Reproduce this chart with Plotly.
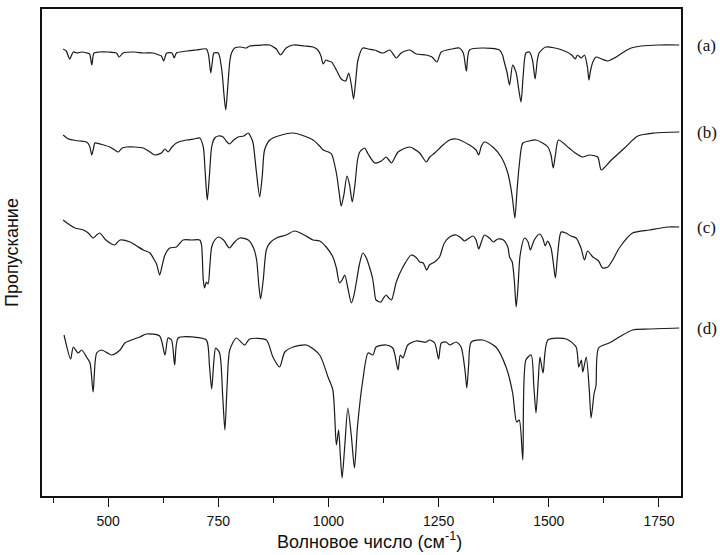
import plotly.graph_objects as go

# Wavenumber (cm^-1) and transmittance (arbitrary units, offset traces)
wn_a = [398, 405, 413, 421, 430, 440, 452, 458, 463, 468, 480, 500, 519, 525, 534, 560, 580, 602, 615, 621,
        626, 633, 645, 650, 655, 680, 700, 723, 728, 733, 737, 740, 750, 758, 763, 767, 771, 776, 780, 787,
        800, 814, 821, 850, 867, 875, 882, 891, 904, 920, 945, 965, 976, 983, 988, 994, 1000, 1007, 1018, 1029,
        1039, 1046, 1052, 1057, 1062, 1067, 1078, 1090, 1105, 1115, 1124, 1139, 1154, 1165, 1184, 1199, 1222, 1235, 1246, 1256,
        1280, 1297, 1306, 1313, 1320, 1350, 1388, 1395, 1399, 1405, 1411, 1418, 1426, 1432, 1437, 1442, 1448, 1456, 1463, 1469,
        1474, 1478, 1493, 1530, 1552, 1560, 1565, 1574, 1581, 1588, 1591, 1595, 1600, 1607, 1620, 1634, 1649, 1670, 1687, 1710,
        1750, 1796]
t_a = [447, 445, 437, 444, 443, 444, 443, 442, 431, 443, 444, 444, 443, 439, 443, 444, 443, 443, 441, 440,
       435, 443, 443, 438, 443, 445, 446, 447, 441, 423, 436, 443, 443, 426, 401, 386, 406, 434, 443, 448,
       449, 448, 450, 451, 451, 449, 447, 441, 448, 451, 450, 449, 446, 440, 432, 436, 435, 434, 426, 417,
       415, 423, 411, 397, 416, 436, 448, 447, 446, 444, 443, 446, 438, 443, 446, 442, 441, 439, 434, 444,
       447, 448, 443, 425, 446, 448, 446, 441, 434, 424, 411, 431, 423, 406, 394, 421, 443, 444, 436, 417,
       436, 443, 449, 446, 441, 437, 441, 438, 441, 428, 416, 426, 434, 439, 437, 435, 438, 444, 448, 450,
       451, 451]

wn_b = [398, 410, 421, 435, 451, 458, 463, 468, 470, 490, 504, 515, 523, 532, 542, 560, 580, 595, 606, 621,
        629, 636, 645, 655, 678, 695, 708, 716, 720, 725, 730, 735, 742, 750, 761, 768, 775, 785, 795, 808,
        818, 824, 829, 836, 844, 850, 855, 867, 886, 920, 945, 965, 980, 988, 1000, 1007, 1018, 1025, 1029, 1035,
        1042, 1048, 1054, 1060, 1066, 1071, 1082, 1090, 1105, 1120, 1131, 1137, 1143, 1158, 1184, 1207, 1222, 1230, 1241, 1260,
        1275, 1290, 1320, 1335, 1341, 1347, 1354, 1373, 1392, 1407, 1414, 1418, 1423, 1428, 1433, 1441, 1455, 1471, 1486, 1498,
        1505, 1510, 1515, 1522, 1546, 1560, 1576, 1592, 1611, 1619, 1642, 1672, 1702, 1740, 1796]
t_b = [361, 357, 356, 355, 354, 350, 341, 350, 353, 351, 349, 346, 344, 348, 349, 349, 348, 344, 341, 343,
       347, 344, 349, 353, 356, 357, 358, 349, 326, 296, 321, 349, 358, 360, 359, 355, 352, 356, 359, 360,
       363, 359, 353, 326, 299, 321, 346, 356, 360, 363, 360, 356, 350, 346, 344, 342, 323, 301, 290, 301,
       320, 311, 294, 311, 336, 344, 348, 342, 333, 335, 339, 336, 333, 344, 349, 343, 334, 339, 343, 351,
       356, 357, 351, 346, 341, 350, 354, 349, 339, 323, 308, 296, 278, 306, 331, 353, 355, 356, 353, 349,
       341, 328, 341, 356, 348, 343, 339, 341, 339, 326, 336, 348, 360, 363, 364]

wn_c = [398, 410, 425, 444, 455, 466, 474, 481, 495, 508, 515, 527, 550, 565, 580, 595, 605, 610, 617, 623,
        629, 640, 655, 670, 690, 708, 712, 716, 719, 723, 727, 731, 735, 742, 750, 762, 775, 787, 799, 818,
        830, 837, 842, 846, 852, 859, 867, 882, 904, 923, 945, 965, 980, 995, 1010, 1018, 1025, 1031, 1037, 1044,
        1052, 1058, 1063, 1070, 1078, 1086, 1093, 1100, 1104, 1108, 1119, 1125, 1131, 1137, 1143, 1154, 1169, 1188, 1200, 1207,
        1215, 1223, 1229, 1241, 1252, 1263, 1275, 1290, 1301, 1309, 1316, 1328, 1335, 1341, 1347, 1354, 1365, 1374, 1384, 1397,
        1407, 1411, 1417, 1422, 1426, 1430, 1435, 1445, 1453, 1458, 1467, 1479, 1486, 1492, 1497, 1505, 1510, 1515, 1520, 1528,
        1539, 1550, 1562, 1573, 1581, 1588, 1600, 1607, 1613, 1622, 1634, 1645, 1660, 1690, 1728, 1770, 1796]
t_c = [276, 272, 268, 266, 263, 258, 261, 263, 256, 252, 251, 256, 254, 250, 246, 243, 236, 232, 221, 231,
       241, 248, 249, 256, 256, 256, 251, 216, 208, 214, 212, 231, 249, 256, 259, 256, 248, 254, 258, 256,
       248, 236, 211, 197, 216, 246, 253, 258, 261, 265, 261, 256, 255, 249, 239, 228, 213, 216, 221, 208,
       193, 201, 213, 231, 243, 238, 229, 218, 206, 196, 194, 198, 201, 198, 196, 214, 229, 241, 238, 234,
       233, 226, 231, 234, 239, 253, 259, 261, 258, 255, 257, 260, 256, 247, 254, 261, 258, 254, 257, 256,
       249, 239, 234, 214, 189, 208, 241, 258, 254, 246, 256, 262, 258, 250, 255, 248, 234, 218, 241, 264,
       263, 260, 258, 248, 236, 245, 239, 237, 235, 228, 229, 236, 248, 263, 266, 269, 269]

wn_d = [400, 415, 421, 432, 440, 451, 459, 466, 474, 485, 508, 527, 538, 572, 587, 617, 629, 636, 644, 651,
        659, 693, 723, 730, 735, 740, 744, 753, 760, 765, 770, 776, 791, 810, 821, 859, 874, 889, 901, 920,
        950, 980, 999, 1010, 1018, 1023, 1027, 1031, 1037, 1044, 1052, 1059, 1066, 1078, 1090, 1101, 1108, 1131, 1146, 1158,
        1163, 1169, 1180, 1199, 1222, 1229, 1241, 1250, 1256, 1267, 1275, 1290, 1301, 1310, 1314, 1318, 1324, 1350, 1380, 1403,
        1418, 1427, 1433, 1441, 1448, 1460, 1466, 1471, 1476, 1480, 1487, 1498, 1540, 1562, 1568, 1574, 1577, 1585, 1592, 1596,
        1603, 1607, 1613, 1637, 1660, 1690, 1728, 1796]
t_d = [161, 137, 149, 143, 146, 139, 133, 104, 143, 146, 141, 146, 153, 159, 162, 160, 141, 158, 156, 131,
       158, 159, 156, 130, 107, 135, 148, 143, 100, 66, 110, 146, 158, 151, 157, 156, 139, 129, 144, 149,
       151, 141, 119, 106, 51, 66, 40, 18, 50, 88, 60, 28, 70, 116, 143, 141, 149, 151, 148, 126,
       141, 138, 151, 155, 154, 156, 153, 137, 153, 154, 151, 154, 149, 125, 108, 130, 154, 156, 149, 129,
       103, 74, 76, 36, 136, 141, 110, 83, 115, 139, 123, 156, 157, 149, 129, 136, 124, 139, 105, 78,
       103, 110, 148, 153, 159, 166, 167, 168]

labels = ["(a)", "(b)", "(c)", "(d)"]
series = [(wn_a, t_a), (wn_b, t_b), (wn_c, t_c), (wn_d, t_d)]

fig = go.Figure()
for (x, y) in series:
    fig.add_trace(go.Scatter(x=x, y=y, mode="lines",
                             line=dict(color="#1a1a1a", width=1.2, shape="spline", smoothing=0.7),
                             showlegend=False, hoverinfo="skip"))

for lab, (x, y) in zip(labels, series):
    fig.add_annotation(text=lab, xref="paper", yref="y", x=1.022, y=y[-1],
                       xanchor="left", yanchor="middle", showarrow=False,
                       font=dict(family="Liberation Serif, Times New Roman, serif", size=17, color="#111"))

# x-axis title as a fixed annotation below the axis
fig.add_annotation(text="Волновое число (см<sup>-1</sup>)", xref="paper", yref="paper",
                   x=0.513, y=-0.092, xanchor="center", yanchor="middle", showarrow=False,
                   font=dict(family="Liberation Sans, Arial, sans-serif", size=18, color="#111"))

fig.update_layout(
    width=720, height=555,
    margin=dict(l=42, r=39, t=9, b=59),
    paper_bgcolor="white", plot_bgcolor="white",
    font=dict(family="Liberation Sans, Arial, sans-serif", color="#111"),
    xaxis=dict(range=[350, 1800], tick0=0, dtick=250, ticks="outside", ticklen=9, tickwidth=1.3,
               tickcolor="#111", showline=True, linecolor="#111", linewidth=1.5, mirror=True,
               showgrid=False, zeroline=False, tickfont=dict(size=14), ticklabelstandoff=2,
               automargin=False,
               minor=dict(dtick=125, tick0=0, ticks="outside", ticklen=5, tickwidth=1.3, tickcolor="#111", showgrid=False)),
    yaxis=dict(range=[0, 487], showticklabels=False, ticks="", showline=True, linecolor="#111",
               linewidth=1.5, mirror=True, showgrid=False, zeroline=False, automargin=False,
               title=dict(text="Пропускание", font=dict(size=18), standoff=17)),
)

fig.write_html("out.html", config={"displayModeBar": False},
               post_script="document.body.style.margin='0';")
